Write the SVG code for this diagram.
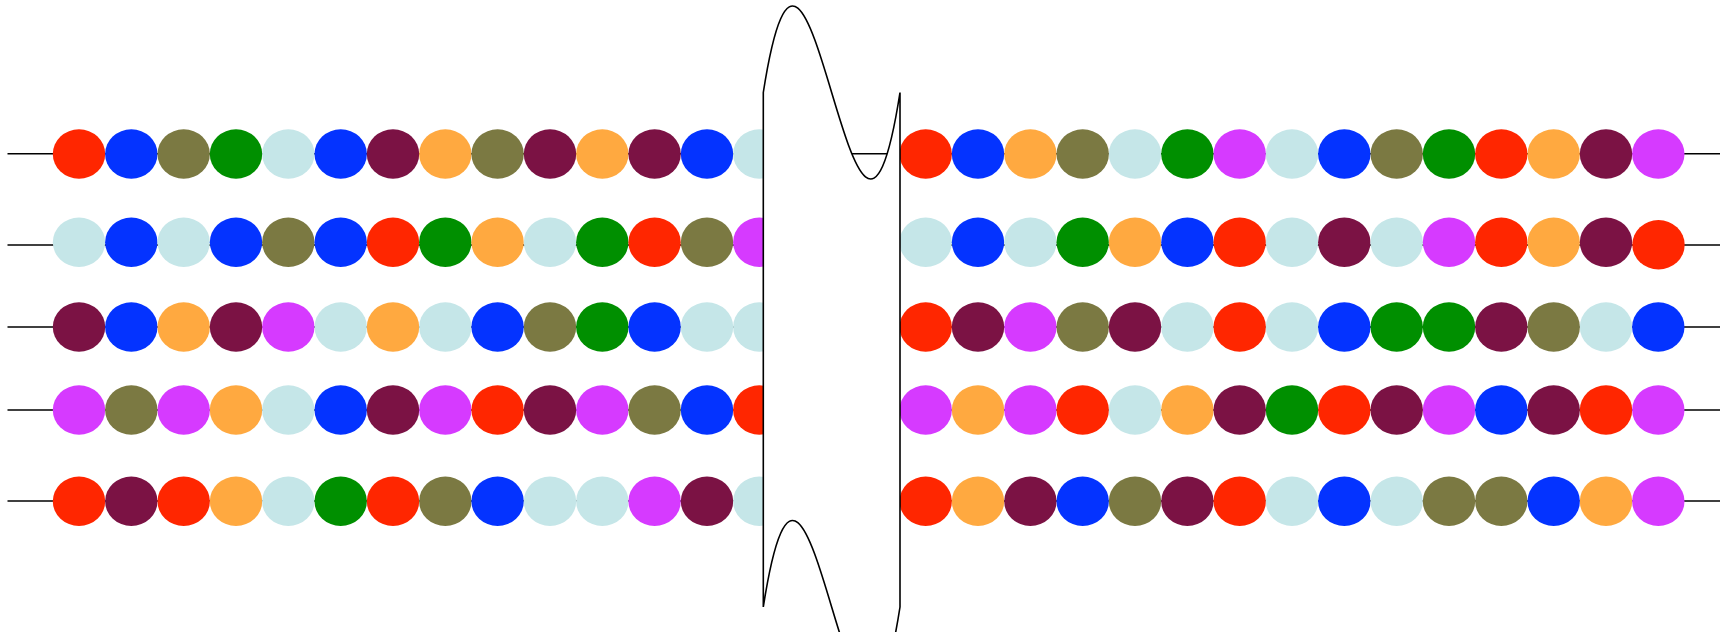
<svg xmlns="http://www.w3.org/2000/svg" xmlns:xlink="http://www.w3.org/1999/xlink" width="1720" height="632" viewBox="0 0 1720 632">
<style>
.R{fill:#FF2600}.B{fill:#0433FF}.O{fill:#7B7942}.G{fill:#008F00}.C{fill:#C5E6E8}.M{fill:#7B1244}.Y{fill:#FFA940}.P{fill:#D63AFF}
.ln{stroke:#000;stroke-width:1.6;fill:none}
.brk{fill:#fff;stroke:#000;stroke-width:1.6;stroke-linejoin:miter}
</style>
<defs><ellipse id="bd" cx="0" cy="0" rx="26.2" ry="24.7"/></defs>
<rect width="1720" height="632" fill="#fff"/>
<g id="connectors">
<line class="ln" x1="7.5" y1="153.7" x2="1720" y2="153.7"/>
<line class="ln" x1="7.5" y1="245" x2="1720" y2="245"/>
<line class="ln" x1="7.5" y1="327" x2="1720" y2="327"/>
<line class="ln" x1="7.5" y1="410" x2="1720" y2="410"/>
<line class="ln" x1="7.5" y1="501" x2="1720" y2="501"/>
</g>
<g id="row1">
<g id="r1l01"><use href="#bd" class="R" x="79" y="154"/></g>
<g id="r1l02"><use href="#bd" class="B" x="131.3" y="154"/></g>
<g id="r1l03"><use href="#bd" class="O" x="183.7" y="154"/></g>
<g id="r1l04"><use href="#bd" class="G" x="236" y="154"/></g>
<g id="r1l05"><use href="#bd" class="C" x="288.3" y="154"/></g>
<g id="r1l06"><use href="#bd" class="B" x="340.7" y="154"/></g>
<g id="r1l07"><use href="#bd" class="M" x="393" y="154"/></g>
<g id="r1l08"><use href="#bd" class="Y" x="445.3" y="154"/></g>
<g id="r1l09"><use href="#bd" class="O" x="497.6" y="154"/></g>
<g id="r1l10"><use href="#bd" class="M" x="550" y="154"/></g>
<g id="r1l11"><use href="#bd" class="Y" x="602.3" y="154"/></g>
<g id="r1l12"><use href="#bd" class="M" x="654.6" y="154"/></g>
<g id="r1l13"><use href="#bd" class="B" x="707" y="154"/></g>
<g id="r1l14"><use href="#bd" class="C" x="759.3" y="154"/></g>
<g id="r1r01"><use href="#bd" class="R" x="925.7" y="154"/></g>
<g id="r1r02"><use href="#bd" class="B" x="978" y="154"/></g>
<g id="r1r03"><use href="#bd" class="Y" x="1030.4" y="154"/></g>
<g id="r1r04"><use href="#bd" class="O" x="1082.7" y="154"/></g>
<g id="r1r05"><use href="#bd" class="C" x="1135" y="154"/></g>
<g id="r1r06"><use href="#bd" class="G" x="1187.4" y="154"/></g>
<g id="r1r07"><use href="#bd" class="P" x="1239.7" y="154"/></g>
<g id="r1r08"><use href="#bd" class="C" x="1292" y="154"/></g>
<g id="r1r09"><use href="#bd" class="B" x="1344.3" y="154"/></g>
<g id="r1r10"><use href="#bd" class="O" x="1396.7" y="154"/></g>
<g id="r1r11"><use href="#bd" class="G" x="1449" y="154"/></g>
<g id="r1r12"><use href="#bd" class="R" x="1501.3" y="154"/></g>
<g id="r1r13"><use href="#bd" class="Y" x="1553.7" y="154"/></g>
<g id="r1r14"><use href="#bd" class="M" x="1606" y="154"/></g>
<g id="r1r15"><use href="#bd" class="P" x="1658.3" y="154"/></g>
</g>
<g id="row2">
<g id="r2l01"><use href="#bd" class="C" x="79" y="242.2"/></g>
<g id="r2l02"><use href="#bd" class="B" x="131.3" y="242.2"/></g>
<g id="r2l03"><use href="#bd" class="C" x="183.7" y="242.2"/></g>
<g id="r2l04"><use href="#bd" class="B" x="236" y="242.2"/></g>
<g id="r2l05"><use href="#bd" class="O" x="288.3" y="242.2"/></g>
<g id="r2l06"><use href="#bd" class="B" x="340.7" y="242.2"/></g>
<g id="r2l07"><use href="#bd" class="R" x="393" y="242.2"/></g>
<g id="r2l08"><use href="#bd" class="G" x="445.3" y="242.2"/></g>
<g id="r2l09"><use href="#bd" class="Y" x="497.6" y="242.2"/></g>
<g id="r2l10"><use href="#bd" class="C" x="550" y="242.2"/></g>
<g id="r2l11"><use href="#bd" class="G" x="602.3" y="242.2"/></g>
<g id="r2l12"><use href="#bd" class="R" x="654.6" y="242.2"/></g>
<g id="r2l13"><use href="#bd" class="O" x="707" y="242.2"/></g>
<g id="r2l14"><use href="#bd" class="P" x="759.3" y="242.2"/></g>
<g id="r2r01"><use href="#bd" class="C" x="925.7" y="242.2"/></g>
<g id="r2r02"><use href="#bd" class="B" x="978" y="242.2"/></g>
<g id="r2r03"><use href="#bd" class="C" x="1030.4" y="242.2"/></g>
<g id="r2r04"><use href="#bd" class="G" x="1082.7" y="242.2"/></g>
<g id="r2r05"><use href="#bd" class="Y" x="1135" y="242.2"/></g>
<g id="r2r06"><use href="#bd" class="B" x="1187.4" y="242.2"/></g>
<g id="r2r07"><use href="#bd" class="R" x="1239.7" y="242.2"/></g>
<g id="r2r08"><use href="#bd" class="C" x="1292" y="242.2"/></g>
<g id="r2r09"><use href="#bd" class="M" x="1344.3" y="242.2"/></g>
<g id="r2r10"><use href="#bd" class="C" x="1396.7" y="242.2"/></g>
<g id="r2r11"><use href="#bd" class="P" x="1449" y="242.2"/></g>
<g id="r2r12"><use href="#bd" class="R" x="1501.3" y="242.2"/></g>
<g id="r2r13"><use href="#bd" class="Y" x="1553.7" y="242.2"/></g>
<g id="r2r14"><use href="#bd" class="M" x="1606" y="242.2"/></g>
<g id="r2r15"><use href="#bd" class="R" x="1658.5" y="244.7"/></g>
</g>
<g id="row3">
<g id="r3l01"><use href="#bd" class="M" x="79" y="327"/></g>
<g id="r3l02"><use href="#bd" class="B" x="131.3" y="327"/></g>
<g id="r3l03"><use href="#bd" class="Y" x="183.7" y="327"/></g>
<g id="r3l04"><use href="#bd" class="M" x="236" y="327"/></g>
<g id="r3l05"><use href="#bd" class="P" x="288.3" y="327"/></g>
<g id="r3l06"><use href="#bd" class="C" x="340.7" y="327"/></g>
<g id="r3l07"><use href="#bd" class="Y" x="393" y="327"/></g>
<g id="r3l08"><use href="#bd" class="C" x="445.3" y="327"/></g>
<g id="r3l09"><use href="#bd" class="B" x="497.6" y="327"/></g>
<g id="r3l10"><use href="#bd" class="O" x="550" y="327"/></g>
<g id="r3l11"><use href="#bd" class="G" x="602.3" y="327"/></g>
<g id="r3l12"><use href="#bd" class="B" x="654.6" y="327"/></g>
<g id="r3l13"><use href="#bd" class="C" x="707" y="327"/></g>
<g id="r3l14"><use href="#bd" class="C" x="759.3" y="327"/></g>
<g id="r3r01"><use href="#bd" class="R" x="925.7" y="327"/></g>
<g id="r3r02"><use href="#bd" class="M" x="978" y="327"/></g>
<g id="r3r03"><use href="#bd" class="P" x="1030.4" y="327"/></g>
<g id="r3r04"><use href="#bd" class="O" x="1082.7" y="327"/></g>
<g id="r3r05"><use href="#bd" class="M" x="1135" y="327"/></g>
<g id="r3r06"><use href="#bd" class="C" x="1187.4" y="327"/></g>
<g id="r3r07"><use href="#bd" class="R" x="1239.7" y="327"/></g>
<g id="r3r08"><use href="#bd" class="C" x="1292" y="327"/></g>
<g id="r3r09"><use href="#bd" class="B" x="1344.3" y="327"/></g>
<g id="r3r10"><use href="#bd" class="G" x="1396.7" y="327"/></g>
<g id="r3r11"><use href="#bd" class="G" x="1449" y="327"/></g>
<g id="r3r12"><use href="#bd" class="M" x="1501.3" y="327"/></g>
<g id="r3r13"><use href="#bd" class="O" x="1553.7" y="327"/></g>
<g id="r3r14"><use href="#bd" class="C" x="1606" y="327"/></g>
<g id="r3r15"><use href="#bd" class="B" x="1658.3" y="327"/></g>
</g>
<g id="row4">
<g id="r4l01"><use href="#bd" class="P" x="79" y="410"/></g>
<g id="r4l02"><use href="#bd" class="O" x="131.3" y="410"/></g>
<g id="r4l03"><use href="#bd" class="P" x="183.7" y="410"/></g>
<g id="r4l04"><use href="#bd" class="Y" x="236" y="410"/></g>
<g id="r4l05"><use href="#bd" class="C" x="288.3" y="410"/></g>
<g id="r4l06"><use href="#bd" class="B" x="340.7" y="410"/></g>
<g id="r4l07"><use href="#bd" class="M" x="393" y="410"/></g>
<g id="r4l08"><use href="#bd" class="P" x="445.3" y="410"/></g>
<g id="r4l09"><use href="#bd" class="R" x="497.6" y="410"/></g>
<g id="r4l10"><use href="#bd" class="M" x="550" y="410"/></g>
<g id="r4l11"><use href="#bd" class="P" x="602.3" y="410"/></g>
<g id="r4l12"><use href="#bd" class="O" x="654.6" y="410"/></g>
<g id="r4l13"><use href="#bd" class="B" x="707" y="410"/></g>
<g id="r4l14"><use href="#bd" class="R" x="759.3" y="410"/></g>
<g id="r4r01"><use href="#bd" class="P" x="925.7" y="410"/></g>
<g id="r4r02"><use href="#bd" class="Y" x="978" y="410"/></g>
<g id="r4r03"><use href="#bd" class="P" x="1030.4" y="410"/></g>
<g id="r4r04"><use href="#bd" class="R" x="1082.7" y="410"/></g>
<g id="r4r05"><use href="#bd" class="C" x="1135" y="410"/></g>
<g id="r4r06"><use href="#bd" class="Y" x="1187.4" y="410"/></g>
<g id="r4r07"><use href="#bd" class="M" x="1239.7" y="410"/></g>
<g id="r4r08"><use href="#bd" class="G" x="1292" y="410"/></g>
<g id="r4r09"><use href="#bd" class="R" x="1344.3" y="410"/></g>
<g id="r4r10"><use href="#bd" class="M" x="1396.7" y="410"/></g>
<g id="r4r11"><use href="#bd" class="P" x="1449" y="410"/></g>
<g id="r4r12"><use href="#bd" class="B" x="1501.3" y="410"/></g>
<g id="r4r13"><use href="#bd" class="M" x="1553.7" y="410"/></g>
<g id="r4r14"><use href="#bd" class="R" x="1606" y="410"/></g>
<g id="r4r15"><use href="#bd" class="P" x="1658.3" y="410"/></g>
</g>
<g id="row5">
<g id="r5l01"><use href="#bd" class="R" x="79" y="501.2"/></g>
<g id="r5l02"><use href="#bd" class="M" x="131.3" y="501.2"/></g>
<g id="r5l03"><use href="#bd" class="R" x="183.7" y="501.2"/></g>
<g id="r5l04"><use href="#bd" class="Y" x="236" y="501.2"/></g>
<g id="r5l05"><use href="#bd" class="C" x="288.3" y="501.2"/></g>
<g id="r5l06"><use href="#bd" class="G" x="340.7" y="501.2"/></g>
<g id="r5l07"><use href="#bd" class="R" x="393" y="501.2"/></g>
<g id="r5l08"><use href="#bd" class="O" x="445.3" y="501.2"/></g>
<g id="r5l09"><use href="#bd" class="B" x="497.6" y="501.2"/></g>
<g id="r5l10"><use href="#bd" class="C" x="550" y="501.2"/></g>
<g id="r5l11"><use href="#bd" class="C" x="602.3" y="501.2"/></g>
<g id="r5l12"><use href="#bd" class="P" x="654.6" y="501.2"/></g>
<g id="r5l13"><use href="#bd" class="M" x="707" y="501.2"/></g>
<g id="r5l14"><use href="#bd" class="C" x="759.3" y="501.2"/></g>
<g id="r5r01"><use href="#bd" class="R" x="925.7" y="501.2"/></g>
<g id="r5r02"><use href="#bd" class="Y" x="978" y="501.2"/></g>
<g id="r5r03"><use href="#bd" class="M" x="1030.4" y="501.2"/></g>
<g id="r5r04"><use href="#bd" class="B" x="1082.7" y="501.2"/></g>
<g id="r5r05"><use href="#bd" class="O" x="1135" y="501.2"/></g>
<g id="r5r06"><use href="#bd" class="M" x="1187.4" y="501.2"/></g>
<g id="r5r07"><use href="#bd" class="R" x="1239.7" y="501.2"/></g>
<g id="r5r08"><use href="#bd" class="C" x="1292" y="501.2"/></g>
<g id="r5r09"><use href="#bd" class="B" x="1344.3" y="501.2"/></g>
<g id="r5r10"><use href="#bd" class="C" x="1396.7" y="501.2"/></g>
<g id="r5r11"><use href="#bd" class="O" x="1449" y="501.2"/></g>
<g id="r5r12"><use href="#bd" class="O" x="1501.3" y="501.2"/></g>
<g id="r5r13"><use href="#bd" class="B" x="1553.7" y="501.2"/></g>
<g id="r5r14"><use href="#bd" class="Y" x="1606" y="501.2"/></g>
<g id="r5r15"><use href="#bd" class="P" x="1658.3" y="501.2"/></g>
</g>
<g id="break">
<path class="brk" d="M763.3,92.5 C810.1,-207.1 853.2,392.1 900,92.5 L900,607 C853.2,906.6 810.1,307.4 763.3,607 Z"/>
</g>
</svg>
